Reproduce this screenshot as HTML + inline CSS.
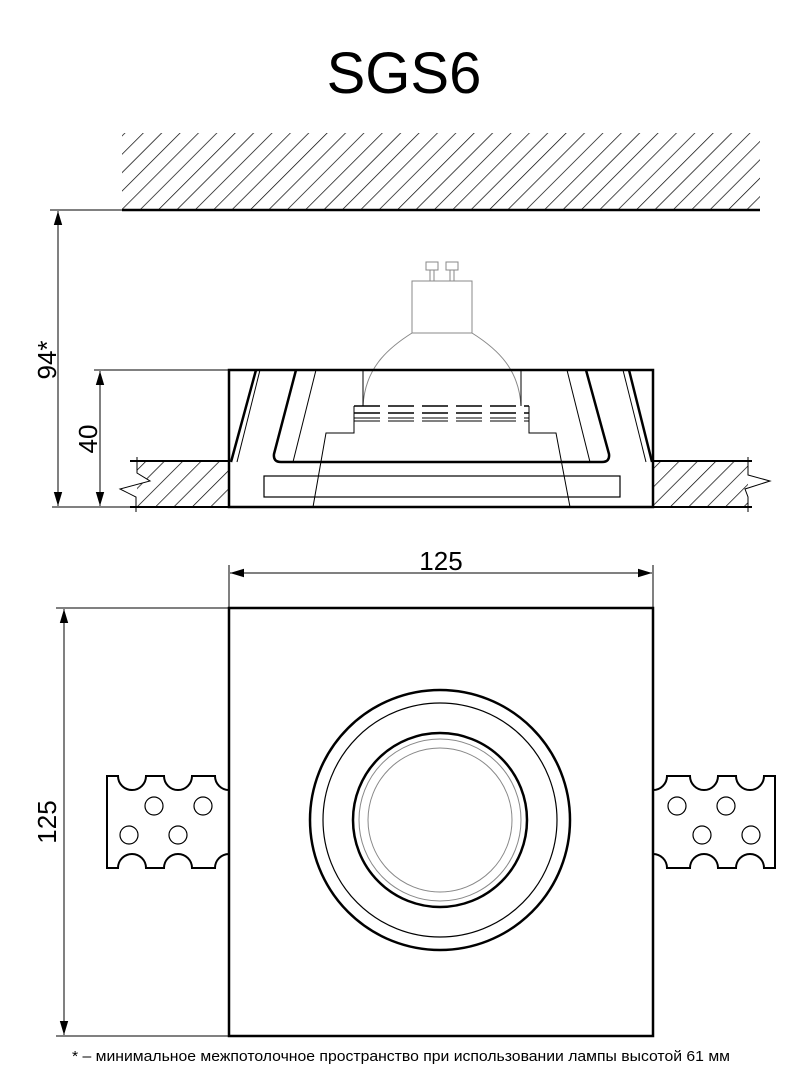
<!DOCTYPE html>
<html><head><meta charset="utf-8"><style>
html,body{margin:0;padding:0;background:#fff}
svg{display:block}
text{font-family:"Liberation Sans",sans-serif}
</style></head><body>
<svg width="800" height="1079" viewBox="0 0 800 1079" xmlns="http://www.w3.org/2000/svg">
<defs>
<pattern id="h" patternUnits="userSpaceOnUse" width="13" height="13" patternTransform="rotate(45)">
<line x1="0" y1="0" x2="0" y2="13" stroke="#000" stroke-width="1.4"/>
</pattern>
<marker id="a" viewBox="0 0 10 10" refX="10" refY="5" markerWidth="14" markerHeight="14" markerUnits="userSpaceOnUse" orient="auto-start-reverse">
<path d="M0,2 L10,5 L0,8 Z" fill="#000"/>
</marker>
</defs>
<text x="404" y="93" font-size="58" text-anchor="middle">SGS6</text>

<rect x="122" y="133" width="638" height="76" fill="url(#h)"/>
<line x1="122" y1="210" x2="760" y2="210" stroke="#000" stroke-width="2.5"/>

<line x1="50" y1="210" x2="122" y2="210" stroke="#000" stroke-width="1"/>
<line x1="52" y1="507" x2="135" y2="507" stroke="#000" stroke-width="1"/>
<line x1="58" y1="211" x2="58" y2="506" stroke="#000" stroke-width="1" marker-start="url(#a)" marker-end="url(#a)"/>
<text transform="translate(56,360) rotate(-90)" font-size="26" text-anchor="middle">94*</text>
<line x1="94" y1="370" x2="229" y2="370" stroke="#000" stroke-width="1"/>
<line x1="100" y1="371" x2="100" y2="506" stroke="#000" stroke-width="1" marker-start="url(#a)" marker-end="url(#a)"/>
<text transform="translate(97,439) rotate(-90)" font-size="26" text-anchor="middle">40</text>

<rect x="137" y="462" width="92" height="45" fill="url(#h)"/>
<rect x="653" y="462" width="95" height="45" fill="url(#h)"/>
<polyline points="137,457 137,473 150,481 120,489 136,497 136,512" fill="#fff" stroke="#000" stroke-width="1"/>
<polyline points="748,457 748,475 770,481 745,489 748,497 748,512" fill="#fff" stroke="#000" stroke-width="1"/>
<line x1="130" y1="461" x2="229" y2="461" stroke="#000" stroke-width="2"/>
<line x1="653" y1="461" x2="752" y2="461" stroke="#000" stroke-width="2"/>
<line x1="130" y1="507" x2="752" y2="507" stroke="#000" stroke-width="2"/>

<g stroke="#888" stroke-width="1" fill="none">
<rect x="426" y="262" width="12" height="8"/>
<rect x="446" y="262" width="12" height="8"/>
<line x1="430" y1="270" x2="430" y2="281"/><line x1="434" y1="270" x2="434" y2="281"/>
<line x1="450" y1="270" x2="450" y2="281"/><line x1="454" y1="270" x2="454" y2="281"/>
<rect x="412" y="281" width="60" height="52"/>
<path d="M412,333 C385,350 365,370 363,406"/>
<path d="M472,333 C499,350 519,370 521,406"/>
</g>

<g stroke="#000" fill="none">
<rect x="229" y="370" width="424" height="137" stroke-width="2.5"/>
<line x1="363" y1="370" x2="363" y2="406" stroke-width="1"/>
<line x1="521" y1="370" x2="521" y2="406" stroke-width="1"/>
<line x1="354" y1="406" x2="529" y2="406" stroke-width="1.5" stroke-dasharray="26,8"/>
<line x1="354" y1="413" x2="529" y2="413" stroke-width="1.5" stroke-dasharray="26,8"/>
<line x1="354" y1="418" x2="529" y2="418" stroke-width="1" stroke-dasharray="26,8"/>
<line x1="354" y1="421" x2="529" y2="421" stroke-width="1" stroke-dasharray="26,8"/>
<polyline points="354,406 354,433 326,433 313,507" stroke-width="1"/>
<polyline points="529,406 529,433 556,433 570,507" stroke-width="1"/>
<path d="M296,370 L274,454 Q273,462 281,462 L602,462 Q610,462 609,454 L586,370" stroke-width="2.5"/>
<line x1="316" y1="370" x2="293" y2="462" stroke-width="1"/>
<line x1="567" y1="370" x2="590" y2="462" stroke-width="1"/>
<line x1="256" y1="370" x2="231" y2="462" stroke-width="2.5"/>
<line x1="260" y1="370" x2="237" y2="462" stroke-width="1"/>
<line x1="629" y1="370" x2="652" y2="462" stroke-width="2.5"/>
<line x1="623" y1="370" x2="646" y2="462" stroke-width="1"/>
<rect x="264" y="476" width="356" height="21" stroke-width="1.2"/>
</g>

<line x1="229" y1="565" x2="229" y2="608" stroke="#000" stroke-width="1"/>
<line x1="653" y1="565" x2="653" y2="608" stroke="#000" stroke-width="1"/>
<line x1="230" y1="573" x2="652" y2="573" stroke="#000" stroke-width="1" marker-start="url(#a)" marker-end="url(#a)"/>
<text x="441" y="570" font-size="26" text-anchor="middle">125</text>
<line x1="56" y1="608" x2="229" y2="608" stroke="#000" stroke-width="1"/>
<line x1="56" y1="1036" x2="229" y2="1036" stroke="#000" stroke-width="1"/>
<line x1="64" y1="609" x2="64" y2="1035" stroke="#000" stroke-width="1" marker-start="url(#a)" marker-end="url(#a)"/>
<text transform="translate(56,822) rotate(-90)" font-size="26" text-anchor="middle">125</text>

<g stroke="#000" stroke-width="2" fill="#fff">
<path d="M107,776 L118,776 A14,14 0 0 0 146,776 L164,776 A14,14 0 0 0 192,776 L215,776 A14,14 0 0 0 229,790 L229,854 A14,14 0 0 0 215,868 L192,868 A14,14 0 0 0 164,868 L146,868 A14,14 0 0 0 118,868 L107,868 Z"/>
<path d="M775,776 L764,776 A14,14 0 0 1 736,776 L718,776 A14,14 0 0 1 690,776 L667,776 A14,14 0 0 1 653,790 L653,854 A14,14 0 0 1 667,868 L690,868 A14,14 0 0 1 718,868 L736,868 A14,14 0 0 1 764,868 L775,868 Z"/>
</g>
<g stroke="#000" stroke-width="1.2" fill="none">
<circle cx="154" cy="806" r="9"/><circle cx="203" cy="806" r="9"/>
<circle cx="129" cy="835" r="9"/><circle cx="178" cy="835" r="9"/>
<circle cx="726" cy="806" r="9"/><circle cx="677" cy="806" r="9"/>
<circle cx="751" cy="835" r="9"/><circle cx="702" cy="835" r="9"/>
</g>

<rect x="229" y="608" width="424" height="428" fill="#fff" stroke="#000" stroke-width="2.5"/>
<circle cx="440" cy="820" r="130" fill="none" stroke="#000" stroke-width="2.5"/>
<circle cx="440" cy="820" r="117" fill="none" stroke="#000" stroke-width="1.2"/>
<circle cx="440" cy="820" r="87" fill="none" stroke="#000" stroke-width="2.5"/>
<circle cx="440" cy="820" r="81" fill="none" stroke="#888" stroke-width="1"/>
<circle cx="440" cy="820" r="72" fill="none" stroke="#888" stroke-width="1"/>

<text x="72" y="1061" font-size="15" textLength="658" lengthAdjust="spacingAndGlyphs">* – минимальное межпотолочное пространство при использовании лампы высотой 61 мм</text>
</svg>
</body></html>
